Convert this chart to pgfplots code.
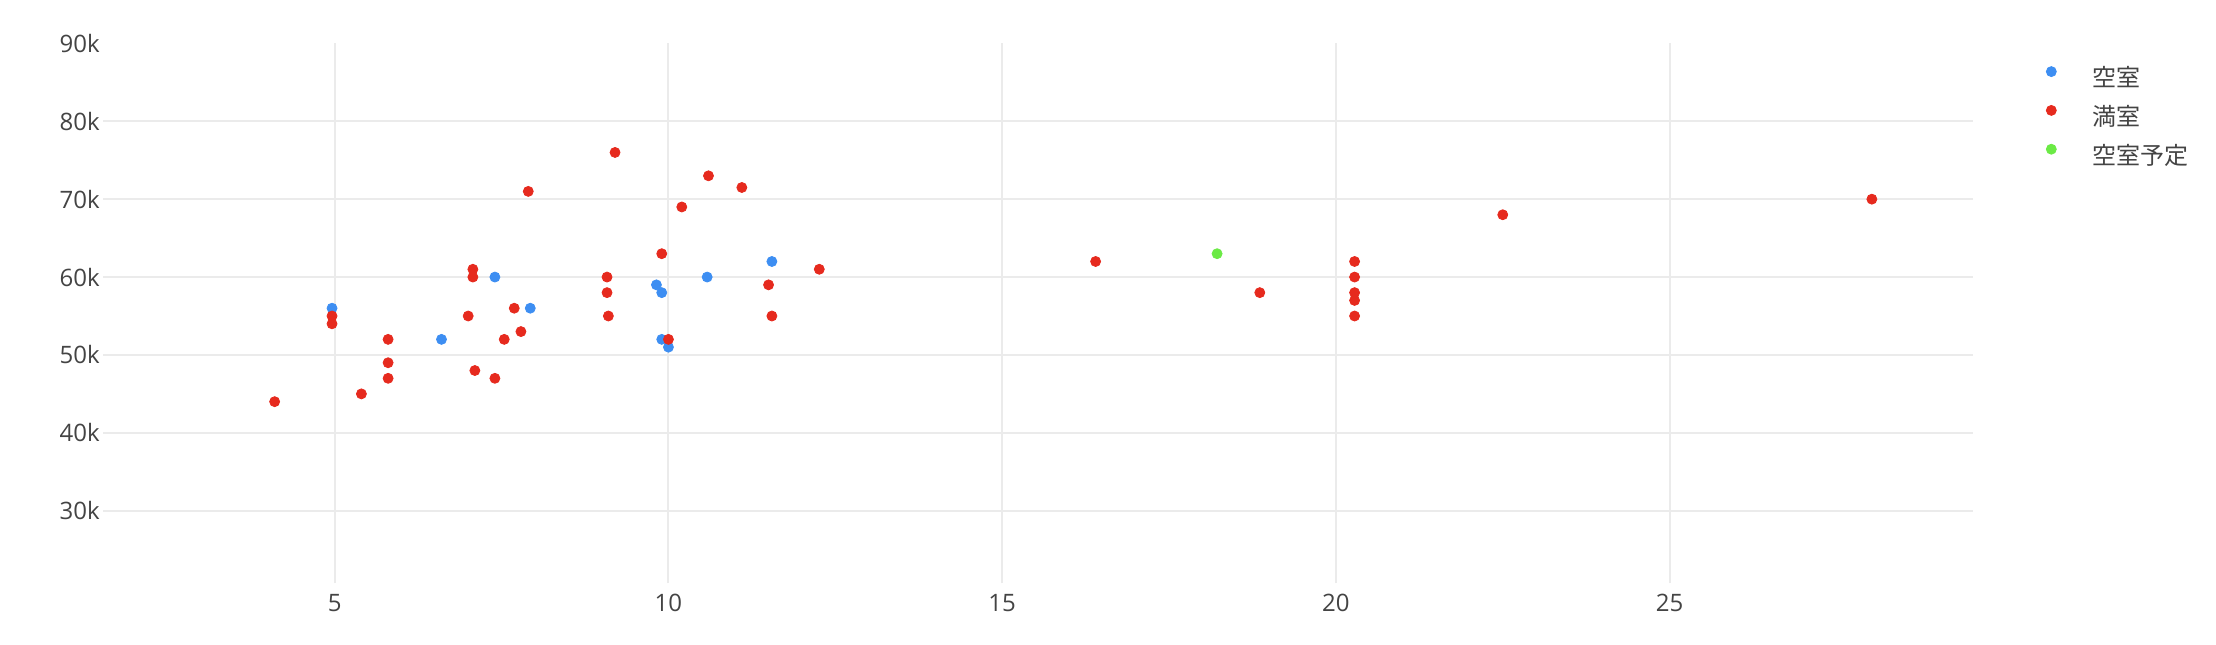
\documentclass[border=0pt]{standalone}
\usepackage{fontspec}
\setmainfont{Open Sans}
\newfontfamily\cjk{Noto Sans CJK JP}
\usepackage{pgfplots}
\pgfplotsset{compat=1.18}
\definecolor{ptblue}{HTML}{3D8EF2}
\definecolor{ptred}{HTML}{E62A1E}
\definecolor{ptgreen}{HTML}{6BEA45}
\definecolor{txt}{HTML}{444444}
\definecolor{gridc}{HTML}{EBEBEB}
\begin{document}
\begin{tikzpicture}
\path[use as bounding box] (0,0) rectangle (1108pt,322pt);
\begin{axis}[
  at={(51.65pt,30.35pt)}, anchor=south west,
  scale only axis, width=935pt, height=269.95pt,
  xmin=1.533, xmax=29.55, ymin=20680, ymax=90000,
  axis line style={draw=none},
  major tick length=0pt,
  scaled y ticks=false, scaled x ticks=false,
  xtick={5,10,15,20,25},
  ytick={30000,40000,50000,60000,70000,80000},
  yticklabels={30k,40k,50k,60k,70k,80k},
  extra y ticks={90000}, extra y tick labels={90k},
  extra y tick style={grid=none},
  grid=major,
  major grid style={draw=gridc, line width=1pt},
  tick label style={font=\fontsize{12}{14}\selectfont, text=txt},
  /pgf/number format/assume math mode=true,
  yticklabel style={inner sep=0pt, anchor=east, xshift=-1.65pt},
  xticklabel style={inner sep=0pt, anchor=north, yshift=-5.2pt},
  legend style={at={(1,1)}, anchor=north west, xshift=36.5pt, yshift=-11.6pt,
    draw=none, fill=none, inner sep=0pt, outer sep=0pt,
    row sep=6.4pt, column sep=18pt,
    font=\cjk\fontsize{12}{14}\selectfont, text=txt,
    nodes={inner sep=0pt, text height=9pt, text depth=3pt}},
  legend cell align=left,
  legend image code/.code={\draw[#1, mark options={draw=none}] plot coordinates {(0pt,4.5pt)};},
]
\addplot[only marks, mark=*, mark size=2.5pt, color=ptblue] coordinates {
(4.96,56000) (6.60,52000) (7.40,60000) (7.93,56000) (9.82,59000) (9.90,58000)
(9.90,52000) (10.0,51000) (10.58,60000) (11.55,62000)
};
\addlegendentry{空室}
\addplot[only marks, mark=*, mark size=2.5pt, color=ptred] coordinates {
(4.10,44000) (4.96,55000) (4.96,54000) (5.40,45000) (5.80,52000) (5.80,49000)
(5.80,47000) (7.00,55000) (7.07,61000) (7.07,60000) (7.10,48000) (7.40,47000)
(7.54,52000) (7.69,56000) (7.79,53000) (7.90,71000) (9.08,60000) (9.08,58000)
(9.10,55000) (9.20,76000) (9.90,63000) (10.0,52000) (10.20,69000) (10.60,73000)
(11.10,71500) (11.50,59000) (11.55,55000) (12.26,61000) (16.40,62000) (18.86,58000)
(20.28,62000) (20.28,60000) (20.28,58000) (20.28,57000) (20.28,55000) (22.50,68000)
(28.03,70000)
};
\addlegendentry{満室}
\addplot[only marks, mark=*, mark size=2.5pt, color=ptgreen] coordinates {
(18.22,63000)
};
\addlegendentry{空室予定}
\end{axis}
\end{tikzpicture}
\end{document}
